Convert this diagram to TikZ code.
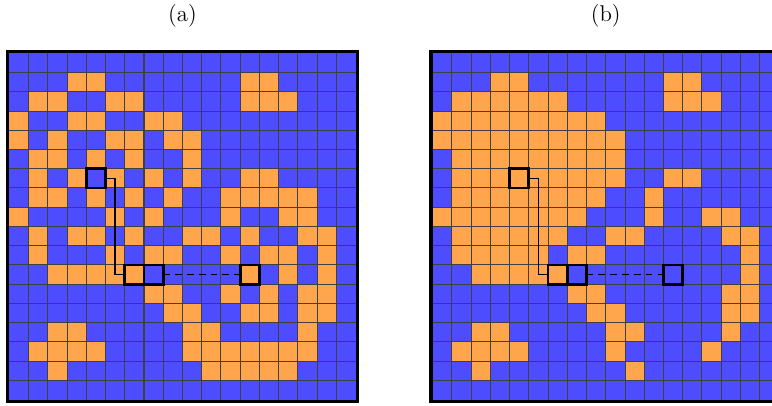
\documentclass[tikz,border=0pt]{standalone}
\usepackage{tikz}

\definecolor{cellblue}{RGB}{77,77,255}
\definecolor{cellorange}{RGB}{255,166,77}

\begin{document}
\begin{tikzpicture}[x=0.4cm, y=-0.4cm,
    caption/.style={font=\fontsize{13.5pt}{16pt}\selectfont},
    gridline/.style={draw=black!75, line width=0.6pt},
    frame/.style={draw=black, line width=4pt},
    hl/.style={draw=black, line width=1.6pt, minimum size=0.4cm, inner sep=0pt, outer sep=0pt},
    link/.style={draw=black, thick}]

    % 画像の範囲
    \useasboundingbox (-0.484,-2.77) rectangle (39.64,18.28);

    % 見出し
    \node[caption] (la) at ( 9, -1.95) {(a)};
    \node[caption] (lb) at (31, -1.95) {(b)};

    % 外枠と背景 (青)
    \foreach \dx in {0,22} {
      \draw[frame] (\dx,0) rectangle ++(18,18);
      \fill[cellblue] (\dx,0) rectangle ++(18,18);
    }

    % 左のグリッド (a) のオレンジのセル
    \foreach \r/\cs in {1/{3,4,12,13}, 2/{1,2,5,6,12,13,14}, 3/{0,3,4,7,8},
                        4/{0,2,5,6,8,9}, 5/{1,2,4,6,9}, 6/{1,3,5,7,9,12,13},
                        7/{1,2,4,6,8,11,12,13,14,15}, 8/{0,5,7,11,14,15},
                        9/{1,3,4,6,9,10,12,15,16}, 10/{1,5,7,8,11,13,14,16},
                        11/{2,3,4,5,6,12,14,16}, 12/{7,8,11,13,15,16},
                        13/{8,9,12,13,15,16}, 14/{2,3,9,10,15},
                        15/{1,2,3,4,9,10,11,12,13,14,15}, 16/{2,10,11,12,13,14}} {
      \foreach \c in \cs {
        \fill[cellorange] (\c,\r) rectangle ++(1,1);
      }
    }

    % 右のグリッド (b) のオレンジのセル
    \begin{scope}[shift={(22,0)}]
      \foreach \r/\cs in {1/{3,4,12,13}, 2/{1,...,6,12,13,14}, 3/{0,...,8},
                          4/{0,...,9}, 5/{1,...,9}, 6/{1,...,9,12,13},
                          7/{1,...,8,11,...,15}, 8/{0,...,7,11,14,15},
                          9/{1,...,6,9,10,15,16}, 10/{1,...,5,7,8,16},
                          11/{2,...,6,16}, 12/{7,8,15,16},
                          13/{8,9,15,16}, 14/{2,3,9,10,15},
                          15/{1,2,3,4,9,...,15}, 16/{2,10,...,14}} {
        \foreach \c in \cs {
          \fill[cellorange] (\c,\r) rectangle ++(1,1);
        }
      }
    \end{scope}

    % 格子線
    \foreach \dx in {0,22} {
      \foreach \i in {1,...,17} {
        \draw[gridline] (\dx+\i,0) -- (\dx+\i,18);
        \draw[gridline] (\dx,\i) -- (\dx+18,\i);
      }
    }

    % 強調したセルとそれを結ぶ線
    \foreach \g/\dx in {a/0,b/22} {
      \node[hl] (\g1) at (\dx+4.5, 6.5) {};
      \node[hl] (\g2) at (\dx+6.5, 11.5) {};
      \node[hl] (\g3) at (\dx+7.5, 11.5) {};
      \node[hl] (\g4) at (\dx+12.5, 11.5) {};
      \draw[link] (\g1.east) -- ++(0.5,0) |- (\g2.west);
      \draw[link, dash pattern=on 4pt off 3pt] (\g3.east) -- (\g4.west);
    }
  \end{tikzpicture}
\end{document}
